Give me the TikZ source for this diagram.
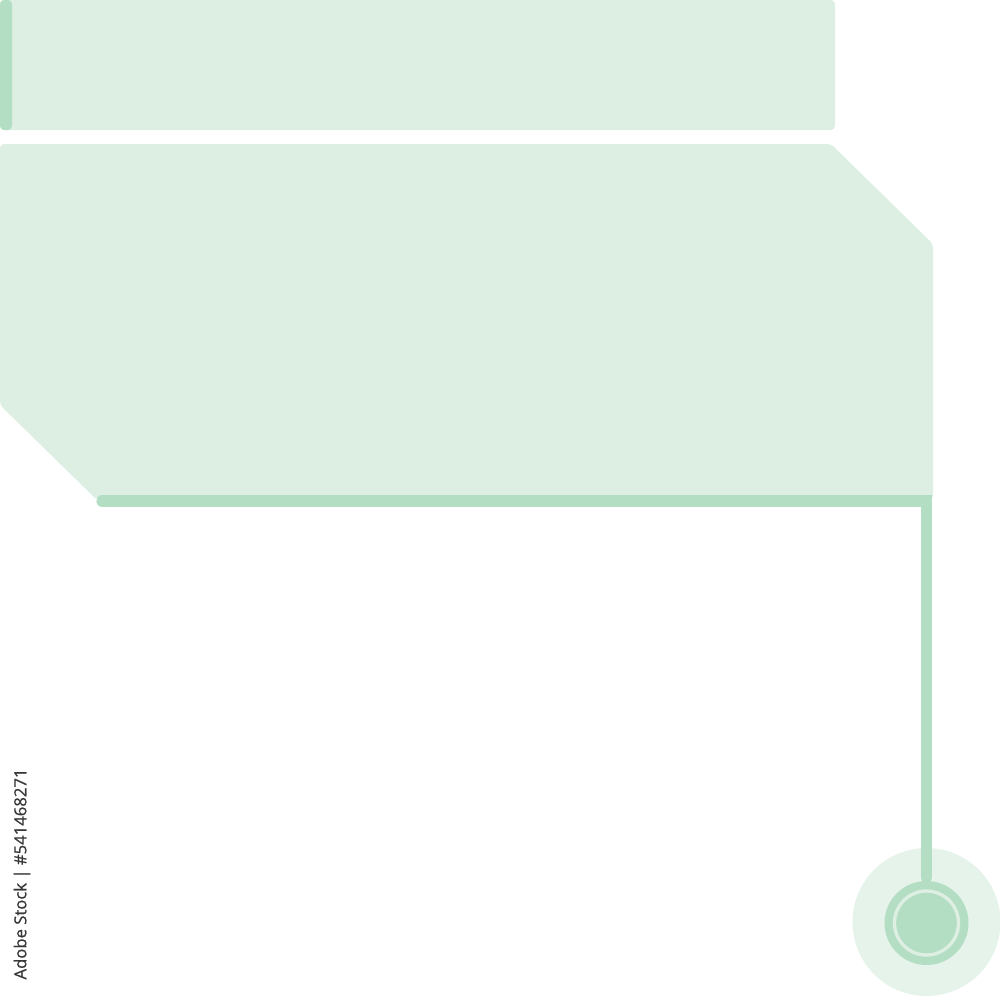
\documentclass[tikz,border=0pt]{standalone}
\usepackage{fontspec}
\newfontfamily\wmfont[FakeBold=0.8]{Open Sans}
\definecolor{panel}{RGB}{221,239,227}
\definecolor{accent}{RGB}{180,222,196}
\definecolor{halo}{RGB}{229,243,234}
\definecolor{wmtext}{RGB}{55,55,55}
\tikzset{
  panelfill/.style={fill=panel, draw=none, rounded corners=3pt},
  connector/.style={draw=accent, line width=8.5pt, line cap=round},
}
\begin{document}
\begin{tikzpicture}[x=0.75pt,y=-0.75pt]
\useasboundingbox (0,0) rectangle (1000,996);
% top bar
\fill[panelfill] (0,0) rectangle (835,130);
\fill[accent, rounded corners=3pt] (0,0) rectangle (12,130);
% big panel
\fill[panelfill] (0,144) -- (831,144) -- (933,244) -- (933,500) -- (97,500) -- (0,405) -- cycle;
% halo and dot
\fill[halo] (926.5,922) circle (74);
\node[circle, fill=accent, minimum size=63pt, inner sep=0pt] (dot) at (926.5,923) {};
\draw[panel, line width=2.5pt] (dot.center) circle (32);
% connector
\coordinate (lstart) at (102,501);
\draw[connector] (lstart) -| ([yshift=2pt]dot.north);
% vertical label
\node[rotate=90, text=wmtext, font=\wmfont\fontsize{12.5}{14}\selectfont, inner sep=0pt] (wm) at (22,874) {Adobe Stock | \#541468271};
\end{tikzpicture}
\end{document}
